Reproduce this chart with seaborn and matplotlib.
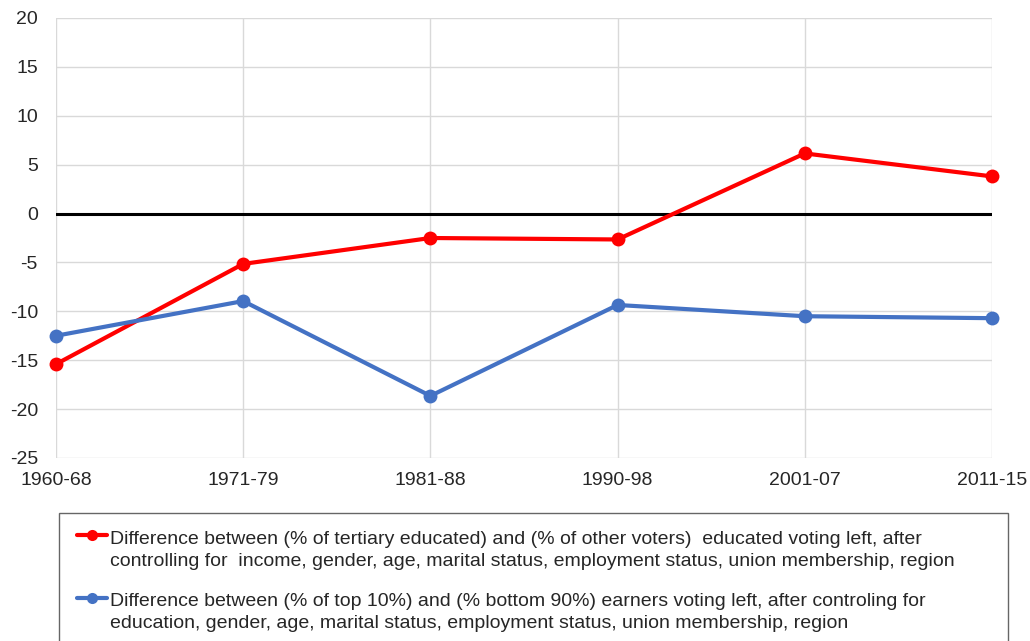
import matplotlib
matplotlib.use("Agg")
import matplotlib.pyplot as plt
import seaborn as sns
import pandas as pd
import numpy as np
from matplotlib.lines import Line2D
from matplotlib.legend_handler import HandlerLine2D

periods = ["1960-68", "1971-79", "1981-88", "1990-98", "2001-07", "2011-15"]
education_gap = [-15.4, -5.15, -2.5, -2.65, 6.15, 3.8]
income_gap = [-12.5, -8.95, -18.65, -9.35, -10.5, -10.7]

label_edu = ("Difference between (% of tertiary educated) and (% of other voters)  educated voting left, after\n"
             "controlling for  income, gender, age, marital status, employment status, union membership, region")
label_inc = ("Difference between (% of top 10%) and (% bottom 90%) earners voting left, after controling for\n"
             "education, gender, age, marital status, employment status, union membership, region")

sns.set_theme(style="white")
plt.rcParams['font.family'] = ['Liberation Sans', 'DejaVu Sans']
plt.rcParams['axes.unicode_minus'] = False

text_color = "#262626"

df = pd.DataFrame({
    "period": periods * 2,
    "value": education_gap + income_gap,
    "series": [label_edu] * len(periods) + [label_inc] * len(periods),
})
df["x"] = list(range(len(periods))) * 2

fig = plt.figure(figsize=(10.30, 6.41), dpi=100)
ax = fig.add_axes([56/1030, 1-458/641, (992-56)/1030, (458-18)/641])

sns.lineplot(data=df, x="x", y="value", hue="series",
             palette={label_edu: "#FF0000", label_inc: "#4472C4"},
             marker="o", markersize=10, markeredgewidth=0, linewidth=3,
             ax=ax, legend=False, clip_on=False, zorder=3)

ax.axhline(0, color="black", linewidth=2.2, zorder=2)
ax.set_xlim(0, len(periods) - 1)
ax.set_ylim(-25, 20)
ax.set_yticks(range(-25, 21, 5))
ax.set_xticks(range(len(periods)))
ax.set_xticklabels(periods)
ax.grid(True, color="#d9d9d9", linewidth=1)
for s in ax.spines.values():
    s.set_visible(False)
ax.tick_params(axis="y", length=0, pad=13, labelsize=14, colors=text_color)
ax.tick_params(axis="x", length=0, pad=10, labelsize=14, colors=text_color)
ax.set_xlabel("")
ax.set_ylabel("")


class RaisedHandler(HandlerLine2D):
    def __init__(self, offset, **kw):
        super().__init__(**kw)
        self._offset = offset

    def create_artists(self, legend, orig_handle, xdescent, ydescent,
                       width, height, fontsize, trans):
        artists = super().create_artists(legend, orig_handle, xdescent, ydescent,
                                         width, height, fontsize, trans)
        for a in artists:
            a.set_ydata(np.asarray(a.get_ydata()) + self._offset)
        return artists


handles = [Line2D([0], [0], color="#FF0000", lw=3, marker="o", markersize=8, markeredgewidth=0),
           Line2D([0], [0], color="#4472C4", lw=3, marker="o", markersize=8, markeredgewidth=0)]
leg = fig.legend(handles, [label_edu, label_inc],
                 loc="upper left", bbox_to_anchor=(59/1030, 1-513/641, 949/1030, 0),
                 mode="expand", frameon=True, fancybox=False, fontsize=14,
                 handlelength=1.55, handletextpad=0.15, labelspacing=1.2,
                 borderpad=0.9, borderaxespad=0,
                 handler_map={Line2D: RaisedHandler(10.5)})
for t in leg.get_texts():
    t.set_color(text_color)
    t.set_linespacing(1.4)
leg.get_frame().set_edgecolor("#404040")
leg.get_frame().set_linewidth(1)
leg.get_frame().set_facecolor("white")

fig.savefig("out.png", dpi=100)
